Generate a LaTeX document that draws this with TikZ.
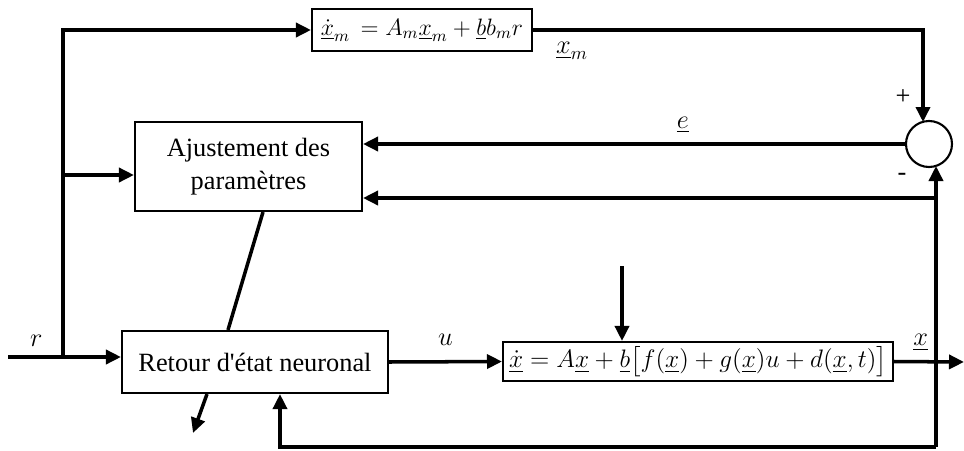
\documentclass[tikz,border=0pt]{standalone}
\usepackage{amsmath}
\usepackage{amssymb}
\usepackage{fix-cm}
\usepackage[no-math]{fontspec}
\setmainfont{Liberation Serif}
\usepackage{tikz}
\usetikzlibrary{arrows.meta}

\begin{document}
\fontsize{15}{19}\selectfont
\begin{tikzpicture}[x=0.02cm, y=-0.02cm,
        block/.style = {draw, line width=1.2pt, inner sep=0pt, align=center},
        sig/.style = {line width=2pt, -{Triangle[length=0.3cm, width=0.28cm]}},
        wire/.style = {line width=2pt}]
        \useasboundingbox (0,0) rectangle (964,450);

        % blocks
        \node[block, minimum width=4.4cm, minimum height=0.84cm, font=\fontsize{13.5}{16}\selectfont] (model) at (422,30)
            {$\underline{\dot{x}}_m \,= A_m\underline{x}_m + \underline{b}b_m r$};
        \node[block, minimum width=4.54cm, minimum height=1.78cm] (ajust) at (248.5,166.5)
            {Ajustement des\\param\`etres};
        \node[block, minimum width=5.32cm, minimum height=1.24cm] (retour) at (255,362)
            {Retour d\textquotesingle\'etat neuronal};
        \node[block, minimum width=7.8cm, minimum height=0.78cm, font=\fontsize{14.4}{17}\selectfont] (plant) at (698,361.5)
            {$\underline{\dot{x}} = A\underline{x} + \underline{b}\big[f(\underline{x}) + g(\underline{x})u + d(\underline{x},t)\big]$};
        \node[draw, circle, line width=1.2pt, minimum size=0.92cm, inner sep=0pt] (sum) at (929,144) {};
        \node at (903,97) {+};
        \node at (902,177) {-};

        % free ends
        \coordinate (rin) at (8,357);
        \coordinate (split) at (63,357);
        \coordinate (tap) at (63,175);
        \coordinate (plusin) at (923,122);
        \coordinate (minusin) at (936,166);
        \coordinate (fbb) at (936,447);
        \coordinate (dist) at (622,266);
        \coordinate (tune) at (193,433);
        \coordinate (out) at (964,362);

        % reference and model
        \draw[sig] (rin) -- (retour.west |- rin)
            node[pos=0.25, above] {$r$};
        \draw[sig] (split) |- (model.west);
        \draw[sig] (tap) -- (ajust.west |- tap);
        \draw[sig] (model.east) -| (plusin)
            node[pos=0.05, below=1pt] {$\underline{x}_m$};

        % error and adaptation
        \draw[sig] (sum.west) -- (ajust.east |- sum.west)
            node[pos=0.41, above] {$\underline{e}$};
        \draw[sig] (fbb |- 0,198) -- (ajust.east |- 0,198);
        \draw[wire] (ajust.south -| 263,0) -- (retour.north -| 228,0);
        \draw[sig] (retour.south -| 207,0) -- (tune);

        % plant loop
        \draw[sig] (retour.east) -- (plant.west)
            node[midway, above=3pt] {$u$};
        \draw[sig] (dist) -- (plant.north -| dist);
        \draw[sig] (plant.east) -- (out)
            node[pos=0.38, above] {$\underline{x}$};
        \draw[sig] (fbb) -- (minusin);
        \draw[sig] (fbb) -| (retour.south -| 280,0);
    \end{tikzpicture}
\end{document}
